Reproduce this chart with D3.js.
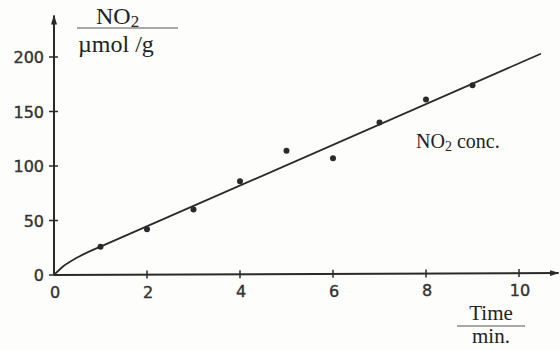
<!DOCTYPE html>
<html lang="en">
<head>
<meta charset="utf-8">
<title>NO2 conc.</title>
<script src="https://cdn.jsdelivr.net/npm/d3@7/dist/d3.min.js"></script>
<style>
  body { margin: 0; background: #fdfdfb; }
  .tick { font-family: "DejaVu Sans", sans-serif; font-size: 16px; fill: #333; stroke: #333; stroke-width: 0.4; }
  .serif { font-family: "Liberation Serif", "Times New Roman", serif; fill: #222; }
</style>
</head>
<body>
<script>

var w = 560;
var h = 350;

// measured points
var times = [1, 2, 3, 4, 5, 6, 7, 8, 9];
var no2 = [26, 42, 60, 86, 114, 107, 140, 161, 174];

// fitted curve: curved start, then straight
var startTimes = [0, 0.2, 0.5, 1];
var startValues = [0, 8, 16, 26];
var lineTimes = [1, 10.47];
var lineValues = [26, 203];

var xTicks = [0, 2, 4, 6, 8, 10];
var yTicks = [0, 50, 100, 150, 200];

var x = d3.scaleLinear().domain([0, 10]).range([54, 519]);
var y = d3.scaleLinear().domain([0, 200]).range([275, 57]);

var svg = d3.select("body")
    .append("svg")
    .attr("width", w)
    .attr("height", h);

var ink = "#2a2a2a";

// arrow heads
var defs = svg.append("defs");
defs.append("marker")
    .attr("id", "arrow")
    .attr("viewBox", "0 0 10 6")
    .attr("refX", 9)
    .attr("refY", 3)
    .attr("markerWidth", 10)
    .attr("markerHeight", 6)
    .attr("markerUnits", "userSpaceOnUse")
    .attr("orient", "auto")
  .append("path")
    .attr("d", "M0,0 L10,3 L0,6 Z")
    .attr("fill", ink);

// axes
svg.append("line")
    .attr("x1", x(0)).attr("y1", y(0))
    .attr("x2", x(10.85)).attr("y2", y(0) - 2)
    .attr("stroke", ink).attr("stroke-width", 2)
    .attr("marker-end", "url(#arrow)");

svg.append("line")
    .attr("x1", x(0)).attr("y1", y(0))
    .attr("x2", x(0)).attr("y2", y(238))
    .attr("stroke", ink).attr("stroke-width", 2)
    .attr("marker-end", "url(#arrow)");

// x ticks
var xt = svg.append("g");
xt.selectAll("line")
    .data(xTicks.slice(1))
    .enter().append("line")
    .attr("x1", function(d) { return x(d); })
    .attr("x2", function(d) { return x(d); })
    .attr("y1", function(d) { return y(0) - 4 - d * 0.2; })
    .attr("y2", function(d) { return y(0) + 4 - d * 0.2; })
    .attr("stroke", ink).attr("stroke-width", 1.5);
xt.selectAll("text")
    .data(xTicks)
    .enter().append("text")
    .attr("class", "tick")
    .attr("x", function(d) { return x(d) + 1; })
    .attr("y", function(d) { return 298 - d * 0.2; })
    .attr("text-anchor", "middle")
    .text(function(d) { return d; });

// y ticks
var yt = svg.append("g");
yt.selectAll("line")
    .data(yTicks)
    .enter().append("line")
    .attr("x1", x(0) - 5)
    .attr("x2", x(0) + 4)
    .attr("y1", function(d) { return y(d); })
    .attr("y2", function(d) { return y(d); })
    .attr("stroke", ink).attr("stroke-width", 1.5);
yt.selectAll("text")
    .data(yTicks)
    .enter().append("text")
    .attr("class", "tick")
    .attr("x", 44)
    .attr("y", function(d) { return y(d) + 6; })
    .attr("text-anchor", "end")
    .text(function(d) { return d; });

// fitted line
var lineGen = d3.line()
    .x(function(d) { return x(d[0]); })
    .y(function(d) { return y(d[1]); });

svg.append("path")
    .datum(startTimes.map(function(t, i) { return [t, startValues[i]]; }))
    .attr("fill", "none")
    .attr("stroke", ink)
    .attr("stroke-width", 1.8)
    .attr("d", lineGen.curve(d3.curveMonotoneX));

svg.append("path")
    .datum(lineTimes.map(function(t, i) { return [t, lineValues[i]]; }))
    .attr("fill", "none")
    .attr("stroke", ink)
    .attr("stroke-width", 1.8)
    .attr("d", lineGen.curve(d3.curveLinear));

// points
svg.append("g").selectAll("circle")
    .data(times)
    .enter().append("circle")
    .attr("cx", function(d) { return x(d); })
    .attr("cy", function(d, i) { return y(no2[i]); })
    .attr("r", 3)
    .attr("fill", ink);

// y label
var yl = svg.append("g").attr("class", "serif");
yl.append("text")
    .attr("x", 96).attr("y", 24)
    .attr("font-size", 24)
    .html('NO<tspan font-size="17" dy="3">2</tspan>');
yl.append("line")
    .attr("x1", 77).attr("x2", 178)
    .attr("y1", 28).attr("y2", 28)
    .attr("stroke", "#555").attr("stroke-width", 1.2);
yl.append("text")
    .attr("x", 78).attr("y", 52)
    .attr("font-size", 24)
    .text("µmol /g");

// x label
var xl = svg.append("g").attr("class", "serif");
xl.append("text")
    .attr("x", 491).attr("y", 320)
    .attr("text-anchor", "middle")
    .attr("font-size", 21)
    .text("Time");
xl.append("line")
    .attr("x1", 457).attr("x2", 525)
    .attr("y1", 326).attr("y2", 326)
    .attr("stroke", "#555").attr("stroke-width", 1.2);
xl.append("text")
    .attr("x", 491).attr("y", 343)
    .attr("text-anchor", "middle")
    .attr("font-size", 21)
    .text("min.");

// series label
svg.append("text")
    .attr("class", "serif")
    .attr("x", 416).attr("y", 148)
    .attr("font-size", 20)
    .html('NO<tspan font-size="14" dy="3">2</tspan><tspan dy="-3"> conc.</tspan>');

</script>
</body>
</html>
